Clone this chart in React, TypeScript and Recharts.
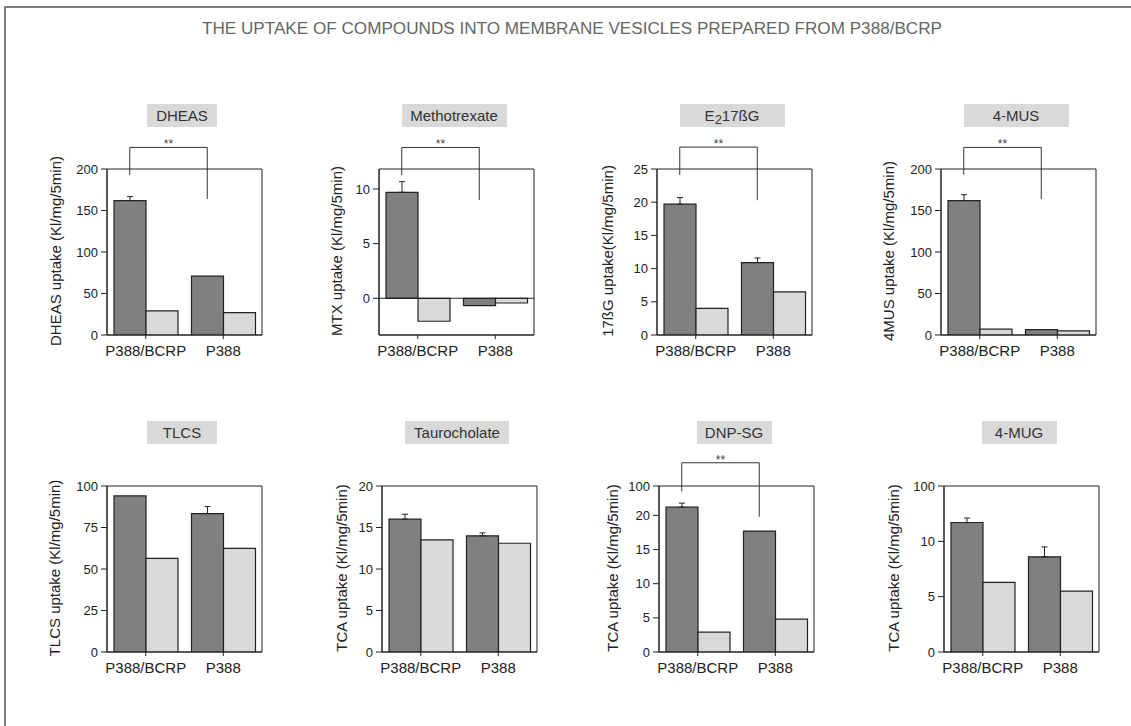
import React from 'react';
import { BarChart, Bar, XAxis, YAxis, ErrorBar, ReferenceLine, ReferenceArea } from 'recharts';

const cellLines = ['P388/BCRP', 'P388'];

const compounds = ['DHEAS', 'Methotrexate', 'E₂17ßG', '4-MUS', 'TLCS', 'Taurocholate', 'DNP-SG', '4-MUG'];

const yLabels = [
  'DHEAS uptake (Kl/mg/5min)',
  'MTX uptake (Kl/mg/5min)',
  '17ßG uptake(Kl/mg/5min)',
  '4MUS uptake (Kl/mg/5min)',
  'TLCS uptake (Kl/mg/5min)',
  'TCA uptake (Kl/mg/5min)',
  'TCA uptake (Kl/mg/5min)',
  'TCA uptake (Kl/mg/5min)',
];

// dark bars (ATP) and light bars (AMP), one pair per cell line
const uptakeAtp = [[162, 71], [9.7, -0.68], [19.7, 10.9], [162, 6.5], [94, 83.4], [16.0, 14.0], [21.2, 17.7], [11.7, 8.6]];
const uptakeAmp = [[29, 27], [-2.1, -0.43], [4.0, 6.5], [7, 5], [56.4, 62.4], [13.5, 13.1], [2.9, 4.8], [6.3, 5.5]];
// upper error on the dark bars only (0 = no error bar drawn)
const atpErr = [[4.7, 0], [0.97, 0], [1.0, 0.7], [7, 0], [0, 4.2], [0.6, 0.35], [0.6, 0], [0.4, 0.9]];

const yDomains = [[0, 200], [-3.36, 11.83], [0, 25], [0, 200], [0, 100], [0, 20], [0, 24.3], [0, 15]];
const yTicks = [
  [0, 50, 100, 150, 200],
  [0, 5, 10],
  [0, 5, 10, 15, 20, 25],
  [0, 50, 100, 150, 200],
  [0, 25, 50, 75, 100],
  [0, 5, 10, 15, 20],
  [0, 5, 10, 15, 20, 24.3],
  [0, 5, 10, 15],
];
const yTickLabels = [
  ['0', '50', '100', '150', '200'],
  ['0', '5', '10'],
  ['0', '5', '10', '15', '20', '25'],
  ['0', '50', '100', '150', '200'],
  ['0', '25', '50', '75', '100'],
  ['0', '5', '10', '15', '20'],
  ['0', '5', '10', '15', '20', '100'],
  ['0', '5', '10', '100'],
];

// ** brackets: [bracket level, left leg end, right leg end]
const brackets: (number[] | null)[] = [
  [226, 193, 164],
  [13.8, 11.28, 9.0],
  [28.3, 24.1, 20.3],
  [226, 193, 164],
  null,
  null,
  [27.7, 23.5, 19.8],
  null,
];

const title = 'THE UPTAKE OF COMPOUNDS INTO MEMBRANE VESICLES PREPARED FROM P388/BCRP';

// layout
const PLOT_W = 155;
const PLOT_H = 166;
const AXIS_W = 70;
const TOP_M = 45;
const BOTTOM_M = 34;
const RIGHT_M = 8;
const BAR = 32;
const INK = '#222';
const DARK = '#808080';
const LIGHT = '#d9d9d9';

const panelPos = [
  { left: 107, top: 169, boxW: 70, labelGap: 52 },
  { left: 379, top: 169, boxW: 105, labelGap: 43 },
  { left: 657, top: 169, boxW: 105, labelGap: 50 },
  { left: 941, top: 169, boxW: 105, labelGap: 53 },
  { left: 107, top: 486, boxW: 70, labelGap: 53 },
  { left: 382, top: 486, boxW: 104, labelGap: 41 },
  { left: 659, top: 486, boxW: 75, labelGap: 47 },
  { left: 944, top: 486, boxW: 75, labelGap: 51 },
];

const shifted = (withStars: boolean) => (p: any) => {
  const x1 = p.x1 - BAR / 2;
  const x2 = p.x2 - BAR / 2;
  return (
    <g>
      <line x1={x1} y1={p.y1} x2={x2} y2={p.y2} stroke="#333" strokeWidth={1} />
      {withStars && (
        <text x={(x1 + x2) / 2} y={p.y1 + 1} textAnchor="middle" fontSize={12} fill="#444">
          **
        </text>
      )}
    </g>
  );
};

function TitleText({ text }: { text: string }) {
  const parts = text.split('₂');
  if (parts.length === 1) return <>{text}</>;
  return (
    <>
      {parts[0]}
      <span style={{ fontSize: 13, position: 'relative', top: 3 }}>2</span>
      {parts[1]}
    </>
  );
}

function Panel({ i }: { i: number }) {
  const pos = panelPos[i];
  const data = cellLines.map((cell, k) => ({
    cell,
    atp: uptakeAtp[i][k],
    amp: uptakeAmp[i][k],
    err: atpErr[i][k] > 0 ? [0, atpErr[i][k]] : null,
  }));
  const [d0, d1] = yDomains[i];
  const br = brackets[i];
  const ticks = yTicks[i];
  const labels = yTickLabels[i];

  return (
    <>
      <div
        style={{
          position: 'absolute',
          left: pos.left + 75 - pos.boxW / 2,
          top: pos.top - 65,
          width: pos.boxW,
          height: 23,
          lineHeight: '23px',
          background: LIGHT,
          color: '#333',
          fontSize: 15,
          textAlign: 'center',
          whiteSpace: 'nowrap',
        }}
      >
        <TitleText text={compounds[i]} />
      </div>
      <div style={{ position: 'absolute', left: pos.left - AXIS_W, top: pos.top - TOP_M }}>
        <BarChart
          width={AXIS_W + PLOT_W + RIGHT_M}
          height={TOP_M + PLOT_H + BOTTOM_M}
          data={data}
          margin={{ top: TOP_M, right: RIGHT_M, bottom: 0, left: 0 }}
          barGap={0}
        >
          <XAxis
            dataKey="cell"
            height={BOTTOM_M}
            tickSize={4}
            tickMargin={6}
            axisLine={{ stroke: INK }}
            tickLine={{ stroke: INK }}
            tick={{ fontSize: 15, fill: INK }}
            interval={0}
          />
          <YAxis
            type="number"
            width={AXIS_W}
            domain={[d0, d1]}
            ticks={ticks}
            interval={0}
            allowDataOverflow
            tickSize={6}
            tickMargin={3}
            axisLine={{ stroke: INK }}
            tickLine={{ stroke: INK }}
            tick={{ fontSize: 13, fill: INK }}
            tickFormatter={(v: number) => {
              const k = ticks.indexOf(v);
              return k >= 0 ? labels[k] : String(v);
            }}
            label={{
              content: (props: any) => {
                const vb = props.viewBox || {};
                const cx = vb.x + vb.width - pos.labelGap;
                const cy = vb.y + vb.height / 2 - 1;
                return (
                  <text
                    x={cx}
                    y={cy}
                    transform={`rotate(-90 ${cx} ${cy})`}
                    textAnchor="middle"
                    dominantBaseline="central"
                    fontSize={15}
                    fill={INK}
                  >
                    {yLabels[i]}
                  </text>
                );
              },
            }}
          />
          <ReferenceArea
            x1={cellLines[0]}
            x2={cellLines[1]}
            y1={d0}
            y2={d1}
            fill="none"
            fillOpacity={0}
            stroke={INK}
            strokeWidth={1}
            ifOverflow="visible"
          />
          {d0 < 0 && <ReferenceLine y={0} stroke={INK} strokeWidth={1} />}
          <Bar dataKey="atp" fill={DARK} stroke={INK} strokeWidth={1.2} barSize={BAR} isAnimationActive={false}>
            <ErrorBar dataKey="err" width={3} stroke={INK} strokeWidth={1} direction="y" />
          </Bar>
          <Bar dataKey="amp" fill={LIGHT} stroke={INK} strokeWidth={1.2} barSize={BAR} isAnimationActive={false} />
          {br && (
            <ReferenceLine
              segment={[{ x: cellLines[0], y: br[1] }, { x: cellLines[0], y: br[0] }]}
              ifOverflow="visible"
              shape={shifted(false)}
            />
          )}
          {br && (
            <ReferenceLine
              segment={[{ x: cellLines[0], y: br[0] }, { x: cellLines[1], y: br[0] }]}
              ifOverflow="visible"
              shape={shifted(true)}
            />
          )}
          {br && (
            <ReferenceLine
              segment={[{ x: cellLines[1], y: br[0] }, { x: cellLines[1], y: br[2] }]}
              ifOverflow="visible"
              shape={shifted(false)}
            />
          )}
        </BarChart>
      </div>
    </>
  );
}

export default function App() {
  return (
    <div
      style={{
        position: 'absolute',
        left: 0,
        top: 0,
        width: 1131,
        height: 726,
        background: '#fff',
        overflow: 'hidden',
        fontFamily: '"Liberation Sans", Arial, sans-serif',
      }}
    >
      <svg width={1131} height={726} style={{ position: 'absolute', left: 0, top: 0 }}>
        <path d="M5 726 V7 H1131" fill="none" stroke="#7a7a7a" strokeWidth={2} />
        <text x={572} y={34} textAnchor="middle" fontSize={16} fill="#666" textLength={740} lengthAdjust="spacingAndGlyphs">
          {title}
        </text>
      </svg>
      {compounds.map((_, i) => (
        <Panel key={i} i={i} />
      ))}
    </div>
  );
}
